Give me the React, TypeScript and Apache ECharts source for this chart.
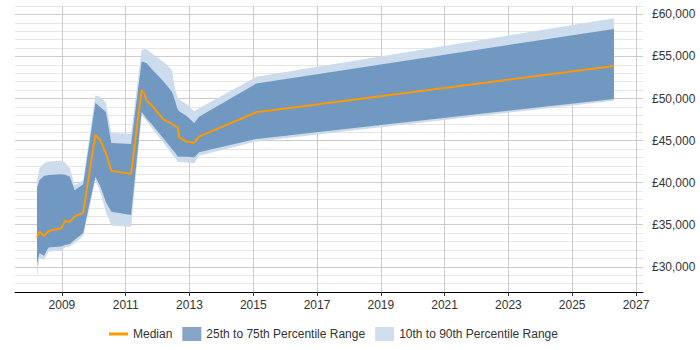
import React, { useEffect, useRef } from "react";
import * as echarts from "echarts";

const years = [
  2008.22, 2008.3, 2008.44, 2008.58, 2008.98, 2009.1, 2009.25, 2009.4, 2009.67,
  2010.05, 2010.2, 2010.38, 2010.55, 2011.17, 2011.5, 2011.58, 2011.66, 2011.81,
  2012.18, 2012.45, 2012.54, 2012.63, 2012.68, 2012.91, 2013.15, 2013.3, 2015.1,
  2026.31,
];
const p10 = [
  28800, 31000, 30800, 31800, 31900, 32300, 32400, 32800, 33700, 40300, 38900,
  36500, 34900, 34750, 48000, 47700, 47300, 46530, 44760, 43400, 43000, 42500,
  42450, 42400, 42300, 43200, 44900, 49750,
];
const p25 = [
  30400, 31600, 31300, 32300, 32400, 32600, 32700, 33200, 34000, 40700, 39600,
  37700, 36550, 36150, 48400, 48000, 47600, 46970, 45270, 44000, 43600, 43100,
  43090, 43090, 43000, 43600, 45200, 49950,
];
const p50 = [
  33500, 34170, 33650, 34250, 34570, 35440, 35360, 35950, 36430, 45670, 45070,
  43500, 41400, 41050, 51000, 50600, 49700, 49230, 47530, 47000, 46740, 46600,
  45390, 44870, 44750, 45470, 48370, 53870,
];
const p75 = [
  39400, 40300, 40800, 40900, 41000, 40950, 40700, 39100, 39800, 49470, 49000,
  48400, 44700, 44600, 54400, 54300, 54200, 53550, 52050, 50800, 49830, 48700,
  48500, 47930, 47100, 47840, 51800, 58270,
];
const p90 = [
  40200, 41700, 42300, 42500, 42600, 42400, 41700, 39700, 40300, 50400, 50200,
  49500, 45900, 45800, 55800, 55850, 55850, 55370, 54360, 53400, 51300, 50100,
  49900, 49330, 48500, 48840, 52600, 59540,
];
const xTicks = [2009, 2011, 2013, 2015, 2017, 2019, 2021, 2023, 2025, 2027];

const NAME_MED = "Median";
const NAME_IQR = "25th to 75th Percentile Range";
const NAME_DEC = "10th to 90th Percentile Range";

const fmt = (v: number) =>
  "£" + String(v).replace(/\B(?=(\d{3})+(?!\d))/g, ",");

function bandSeries(name: string, lo: number[], hi: number[], fill: string, legendColor: string) {
  return {
    type: "custom" as const,
    name,
    silent: true,
    itemStyle: { color: legendColor },
    encode: { x: 0, y: [1, 2] },
    data: years.map((y, i) => [y, lo[i], hi[i]]),
    renderItem: (params: any, api: any) => {
      if (params.dataIndex !== 0) return null;
      const pts: number[][] = [];
      for (let i = 0; i < years.length; i++) pts.push(api.coord([years[i], hi[i]]));
      for (let i = years.length - 1; i >= 0; i--) pts.push(api.coord([years[i], lo[i]]));
      return {
        type: "polygon",
        shape: { points: pts },
        style: { fill, stroke: null },
      };
    },
  };
}

export default function App() {
  const ref = useRef<HTMLDivElement>(null);
  useEffect(() => {
    if (!ref.current) return;
    const chart = echarts.init(ref.current, undefined, { renderer: "svg" });
    const font = "'Liberation Sans', Arial, sans-serif";
    chart.setOption({
      animation: false,
      textStyle: { fontFamily: font },
      grid: { left: 15, right: 57, top: 6, bottom: 58 },
      xAxis: {
        type: "value",
        min: 2007.53,
        max: 2027.22,
        axisLine: { show: true, lineStyle: { color: "#000", width: 1 } },
        axisTick: {
          show: true,
          length: 4,
          customValues: xTicks,
          lineStyle: { color: "#333" },
        },
        axisLabel: {
          customValues: xTicks,
          color: "#333",
          fontSize: 12,
          fontFamily: font,
          margin: 7,
          formatter: (v: number) => String(Math.round(v)),
        },
        splitLine: { show: true, lineStyle: { color: "#cccccc", width: 1 } },
      },
      yAxis: {
        type: "value",
        position: "right",
        min: 27000,
        max: 61000,
        interval: 1000,
        axisLine: { show: false },
        axisTick: { show: false },
        axisLabel: {
          color: "#333",
          fontSize: 12,
          fontFamily: font,
          margin: 9,
          formatter: (v: number) => (v % 5000 === 0 ? fmt(v) : ""),
        },
        splitLine: {
          show: true,
          lineStyle: {
            color: ["#e6e6e6", "#e6e6e6", "#e6e6e6", "#cccccc", "#e6e6e6"],
            width: 1,
          },
        },
      },
      legend: {
        top: 322,
        left: 104,
        itemWidth: 19,
        itemHeight: 14,
        itemGap: 10,
        textStyle: { color: "#333", fontSize: 12, fontFamily: font },
        data: [
          {
            name: NAME_MED,
            icon: "path://M0,0 L19,0 L19,3 L0,3 Z",
            itemStyle: { color: "#ff9900" },
          },
          { name: NAME_IQR, icon: "rect", itemStyle: { color: "#86a5c6" } },
          { name: NAME_DEC, icon: "rect", itemStyle: { color: "#d0dfee" } },
        ],
      },
      series: [
        bandSeries(NAME_DEC, p10, p90, "#ccdcec", "#d0dfee"),
        bandSeries(NAME_IQR, p25, p75, "#7198c1", "#86a5c6"),
        {
          type: "line",
          name: NAME_MED,
          symbol: "none",
          data: years.map((y, i) => [y, p50[i]]),
          itemStyle: { color: "#ff9900" },
          lineStyle: { color: "#ff9900", width: 2 },
          z: 5,
        },
      ],
    });
    return () => chart.dispose();
  }, []);
  return (
    <div
      ref={ref}
      style={{ position: "absolute", left: 0, top: 0, width: 700, height: 350 }}
    />
  );
}
